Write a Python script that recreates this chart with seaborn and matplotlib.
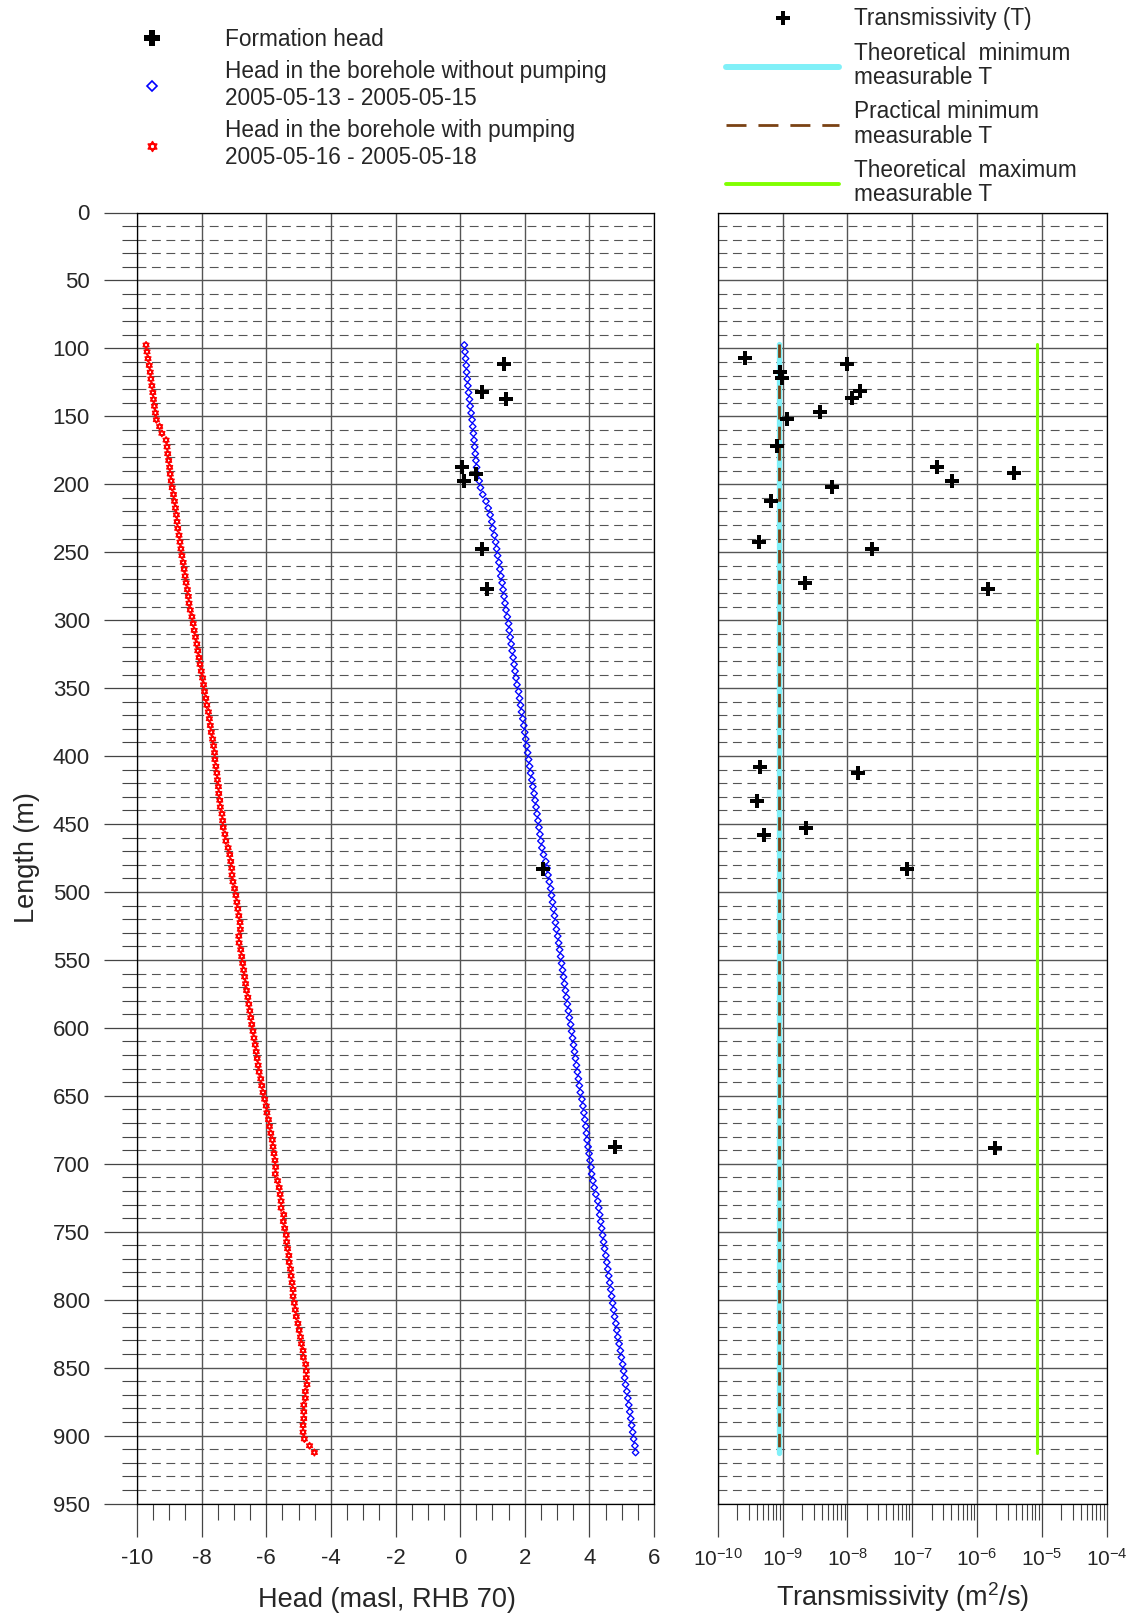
import matplotlib
matplotlib.use("Agg")
import matplotlib.pyplot as plt
import seaborn as sns
from matplotlib.path import Path
from matplotlib.lines import Line2D
from matplotlib.ticker import MultipleLocator, LogLocator, NullFormatter

# borehole length of each head reading (m)
depth = [
    97.5, 102.5, 107.5, 112.5, 117.5, 122.5, 127.5, 132.5, 137.5, 142.5,
    147.5, 152.5, 157.5, 162.5, 167.5, 172.5, 177.5, 182.5, 187.5, 192.5,
    197.5, 202.5, 207.5, 212.5, 217.5, 222.5, 227.5, 232.5, 237.5, 242.5,
    247.5, 252.5, 257.5, 262.5, 267.5, 272.5, 277.5, 282.5, 287.5, 292.5,
    297.5, 302.5, 307.5, 312.5, 317.5, 322.5, 327.5, 332.5, 337.5, 342.5,
    347.5, 352.5, 357.5, 362.5, 367.5, 372.5, 377.5, 382.5, 387.5, 392.5,
    397.5, 402.5, 407.5, 412.5, 417.5, 422.5, 427.5, 432.5, 437.5, 442.5,
    447.5, 452.5, 457.5, 462.5, 467.5, 472.5, 477.5, 482.5, 487.5, 492.5,
    497.5, 502.5, 507.5, 512.5, 517.5, 522.5, 527.5, 532.5, 537.5, 542.5,
    547.5, 552.5, 557.5, 562.5, 567.5, 572.5, 577.5, 582.5, 587.5, 592.5,
    597.5, 602.5, 607.5, 612.5, 617.5, 622.5, 627.5, 632.5, 637.5, 642.5,
    647.5, 652.5, 657.5, 662.5, 667.5, 672.5, 677.5, 682.5, 687.5, 692.5,
    697.5, 702.5, 707.5, 712.5, 717.5, 722.5, 727.5, 732.5, 737.5, 742.5,
    747.5, 752.5, 757.5, 762.5, 767.5, 772.5, 777.5, 782.5, 787.5, 792.5,
    797.5, 802.5, 807.5, 812.5, 817.5, 822.5, 827.5, 832.5, 837.5, 842.5,
    847.5, 852.5, 857.5, 862.5, 867.5, 872.5, 877.5, 882.5, 887.5, 892.5,
    897.5, 902.5, 907.5, 912.5,
]

# head in the borehole without pumping (2005-05-13 - 2005-05-15)
head_no_pump = [
    0.13, 0.15, 0.17, 0.19, 0.20, 0.22, 0.24, 0.26, 0.29, 0.31,
    0.34, 0.37, 0.39, 0.41, 0.43, 0.45, 0.47, 0.49, 0.51, 0.54,
    0.59, 0.63, 0.70, 0.80, 0.87, 0.93, 0.98, 1.01, 1.06, 1.10,
    1.13, 1.16, 1.20, 1.23, 1.26, 1.30, 1.33, 1.36, 1.39, 1.42,
    1.46, 1.50, 1.52, 1.55, 1.58, 1.61, 1.64, 1.67, 1.70, 1.73,
    1.76, 1.81, 1.84, 1.87, 1.90, 1.94, 1.97, 2.00, 2.03, 2.06,
    2.09, 2.12, 2.15, 2.18, 2.22, 2.25, 2.29, 2.32, 2.35, 2.38,
    2.41, 2.44, 2.47, 2.50, 2.53, 2.58, 2.65, 2.69, 2.72, 2.76,
    2.80, 2.83, 2.86, 2.89, 2.92, 2.95, 2.98, 3.02, 3.05, 3.08,
    3.11, 3.14, 3.17, 3.20, 3.23, 3.26, 3.29, 3.32, 3.35, 3.38,
    3.42, 3.45, 3.48, 3.51, 3.54, 3.57, 3.60, 3.63, 3.66, 3.69,
    3.72, 3.77, 3.80, 3.83, 3.86, 3.89, 3.91, 3.93, 3.96, 3.99,
    4.02, 4.05, 4.07, 4.11, 4.15, 4.20, 4.26, 4.29, 4.32, 4.35,
    4.38, 4.41, 4.44, 4.47, 4.51, 4.54, 4.57, 4.60, 4.63, 4.66,
    4.69, 4.72, 4.75, 4.78, 4.82, 4.85, 4.88, 4.92, 4.96, 4.99,
    5.03, 5.06, 5.09, 5.12, 5.16, 5.19, 5.22, 5.25, 5.28, 5.31,
    5.34, 5.37, 5.41, 5.43,
]

# head in the borehole with pumping (2005-05-16 - 2005-05-18)
head_pump = [
    -9.72, -9.69, -9.66, -9.62, -9.59, -9.57, -9.54, -9.51, -9.49, -9.46,
    -9.43, -9.40, -9.30, -9.23, -9.10, -9.07, -9.05, -9.02, -8.99, -8.97,
    -8.94, -8.91, -8.87, -8.84, -8.81, -8.78, -8.76, -8.74, -8.70, -8.67,
    -8.64, -8.61, -8.57, -8.54, -8.51, -8.48, -8.44, -8.41, -8.39, -8.35,
    -8.30, -8.26, -8.23, -8.19, -8.15, -8.12, -8.08, -8.05, -8.01, -7.97,
    -7.94, -7.91, -7.87, -7.84, -7.79, -7.76, -7.73, -7.70, -7.66, -7.63,
    -7.60, -7.59, -7.56, -7.53, -7.51, -7.48, -7.47, -7.44, -7.42, -7.37,
    -7.35, -7.33, -7.28, -7.25, -7.18, -7.13, -7.10, -7.07, -7.06, -7.03,
    -6.98, -6.94, -6.91, -6.88, -6.85, -6.81, -6.80, -6.85, -6.84, -6.79,
    -6.76, -6.73, -6.70, -6.67, -6.64, -6.61, -6.57, -6.54, -6.51, -6.48,
    -6.45, -6.41, -6.38, -6.34, -6.31, -6.28, -6.25, -6.22, -6.17, -6.14,
    -6.10, -6.05, -6.00, -5.98, -5.93, -5.90, -5.86, -5.81, -5.79, -5.76,
    -5.73, -5.71, -5.72, -5.65, -5.60, -5.57, -5.54, -5.54, -5.46, -5.47,
    -5.43, -5.38, -5.37, -5.34, -5.30, -5.29, -5.25, -5.23, -5.20, -5.17,
    -5.17, -5.13, -5.10, -5.07, -5.02, -4.98, -4.94, -4.91, -4.86, -4.85,
    -4.78, -4.76, -4.76, -4.74, -4.79, -4.79, -4.84, -4.84, -4.84, -4.86,
    -4.86, -4.82, -4.66, -4.51,
]

# formation head
fh_depth = [111.8, 131.9, 137.1, 187.1, 192.2, 197.4, 247.5, 277.4, 483.0, 688.0]
formation_head = [1.37, 0.69, 1.43, 0.05, 0.48, 0.11, 0.68, 0.82, 2.58, 4.79]

# transmissivity
t_depth = [106.9, 111.8, 117.2, 121.6, 131.4, 136.8, 146.9, 151.8, 171.9, 187.1,
           192.0, 197.4, 202.1, 212.1, 242.3, 247.5, 272.5, 277.4, 407.9, 412.4,
           432.7, 452.9, 458.2, 483.0, 688.4]
transmissivity = [2.6e-10, 9.7e-9, 9.1e-10, 9.7e-10, 1.55e-8, 1.18e-8, 3.7e-9, 1.17e-9, 8.2e-10, 2.44e-7,
                  3.7e-6, 4.06e-7, 5.7e-9, 6.6e-10, 4.3e-10, 2.35e-8, 2.2e-9, 1.5e-6, 4.5e-10, 1.45e-8,
                  4.0e-10, 2.3e-9, 5.1e-10, 8.4e-8, 1.9e-6]

# measurement limits
limit_depth = [97.0, 913.0]
t_theor_min = [8.6e-10, 8.6e-10]
t_pract_min = [8.6e-10, 8.6e-10]
t_theor_max = [8.5e-6, 8.5e-6]

head_ticks = [-10, -8, -6, -4, -2, 0, 2, 4, 6]
length_ticks = list(range(0, 951, 50))
t_ticks = [1e-10, 1e-9, 1e-8, 1e-7, 1e-6, 1e-5, 1e-4]
t_tick_labels = ["$10^{-10}$", "$10^{-9}$", "$10^{-8}$", "$10^{-7}$",
                 "$10^{-6}$", "$10^{-5}$", "$10^{-4}$"]

sns.set_theme(style="white")
plt.rcParams["font.family"] = ["Liberation Sans", "DejaVu Sans"]
plt.rcParams["mathtext.default"] = "regular"
plt.rcParams["axes.unicode_minus"] = False

CYAN = "#80f0f8"
BROWN = "#7a4214"
GREEN = "#80ff00"
GRID = "#555555"

# hexagram marker for the pumped profile
star6 = Path(
    [(0, 1), (-0.866, -0.5), (0.866, -0.5), (0, 1),
     (0, -1), (0.866, 0.5), (-0.866, 0.5), (0, -1)],
    [Path.MOVETO, Path.LINETO, Path.LINETO, Path.CLOSEPOLY] * 2,
)

fig = plt.figure(figsize=(11.28, 16.13), dpi=100)
W, H = 1128, 1613
ax1 = fig.add_axes([137 / W, 1 - 1503.5 / H, 517 / W, 1291 / H])
ax2 = fig.add_axes([718 / W, 1 - 1503.5 / H, 388.5 / W, 1291 / H])

# ---- left panel: heads
sns.scatterplot(x=head_pump, y=depth, ax=ax1, marker=star6, s=24,
                facecolor="none", edgecolor="red", linewidth=1.0, zorder=3)
sns.scatterplot(x=head_no_pump, y=depth, ax=ax1, marker="D", s=11,
                facecolor="none", edgecolor="blue", linewidth=0.95, zorder=3)
sns.scatterplot(x=formation_head, y=fh_depth, ax=ax1, marker="P", s=100,
                color="black", edgecolor="black", linewidth=0, zorder=4)

ax1.set_xlim(-10, 6)
ax1.set_ylim(950, 0)
ax1.set_xticks(head_ticks)
ax1.set_xticklabels([str(v) for v in head_ticks])
ax1.xaxis.set_minor_locator(MultipleLocator(0.5))
ax1.set_yticks(length_ticks)
ax1.set_yticklabels([str(v) for v in length_ticks])
ax1.yaxis.set_minor_locator(MultipleLocator(10))
ax1.set_xlabel("Head (masl, RHB 70)", fontsize=19.5)
ax1.xaxis.set_label_coords(0.483, -0.0645)
ax1.set_ylabel("Length (m)", fontsize=19.5, labelpad=9)

# ---- right panel: transmissivity
sns.lineplot(x=t_theor_min, y=limit_depth, ax=ax2, orient="y", sort=False,
             estimator=None, color=CYAN, linewidth=3.8, zorder=2)
sns.lineplot(x=t_pract_min, y=limit_depth, ax=ax2, orient="y", sort=False,
             estimator=None, color=BROWN, linewidth=2.0,
             linestyle=(0, (4.8, 2.6)), zorder=3)
sns.lineplot(x=t_theor_max, y=limit_depth, ax=ax2, orient="y", sort=False,
             estimator=None, color=GREEN, linewidth=2.2, zorder=2)
sns.scatterplot(x=transmissivity, y=t_depth, ax=ax2, marker="P", s=88,
                color="black", edgecolor="black", linewidth=0, zorder=4)

ax2.set_xscale("log")
ax2.set_xlim(1e-10, 1e-4)
ax2.set_ylim(950, 0)
ax2.set_xticks(t_ticks)
ax2.set_xticklabels(t_tick_labels)
ax2.xaxis.set_minor_locator(LogLocator(base=10, subs=range(2, 10), numticks=20))
ax2.xaxis.set_minor_formatter(NullFormatter())
ax2.set_yticks(length_ticks)
ax2.set_yticklabels([])
ax2.yaxis.set_minor_locator(MultipleLocator(10))
ax2.set_xlabel("Transmissivity (m$^2$/s)", fontsize=19.5)
ax2.xaxis.set_label_coords(0.476, -0.0592)
ax2.set_ylabel("")

for ax in (ax1, ax2):
    ax.set_axisbelow(True)
    ax.grid(which="major", color=GRID, linewidth=1.0, linestyle="-")
    ax.grid(which="minor", axis="y", color=GRID, linewidth=0.8,
            linestyle=(0, (8, 5)))
    ax.grid(which="minor", axis="x", visible=False)
    for sp in ax.spines.values():
        sp.set_visible(True)
        sp.set_color("black")
        sp.set_linewidth(0.9)
    ax.tick_params(axis="x", which="major", direction="out", length=24,
                   width=0.9, color="#444444", pad=8,
                   bottom=True, top=False)
    ax.tick_params(axis="x", which="minor", direction="out", length=11.5,
                   width=0.8, color="#444444", bottom=True, top=False)

ax1.tick_params(axis="x", which="major", labelsize=16)
ax2.tick_params(axis="x", which="major", labelsize=15, pad=8)
ax1.tick_params(axis="y", which="major", direction="out", length=24,
                width=0.9, color="#444444", labelsize=16, pad=10, left=True)
ax1.tick_params(axis="y", which="minor", direction="out", length=11,
                width=0.8, color="#444444", left=True)
ax2.tick_params(axis="y", which="both", length=0, left=False)

# ---- legends
leg_left_handles = [
    Line2D([], [], linestyle="none", marker="P", markersize=11,
           color="black", markeredgewidth=0),
    Line2D([], [], linestyle="none", marker="D", markersize=5.2,
           markerfacecolor="none", markeredgecolor="blue", markeredgewidth=1.2),
    Line2D([], [], linestyle="none", marker=star6, markersize=7,
           markerfacecolor="none", markeredgecolor="red", markeredgewidth=1.2),
]
leg_left_labels = [
    "Formation head",
    "Head in the borehole without pumping\n2005-05-13 - 2005-05-15",
    "Head in the borehole with pumping\n2005-05-16 - 2005-05-18",
]
leg1 = fig.legend(leg_left_handles, leg_left_labels, loc="upper left",
                  bbox_to_anchor=(129.4 / W, 1 - 27.5 / H), frameon=False,
                  fontsize=16.3, handlelength=2.0, handletextpad=2.23,
                  labelspacing=0.42, borderpad=0, borderaxespad=0, numpoints=1)

leg_right_handles = [
    Line2D([], [], linestyle="none", marker="P", markersize=10,
           color="black", markeredgewidth=0),
    Line2D([], [], color=CYAN, linewidth=4.3),
    Line2D([], [], color=BROWN, linewidth=2.0, linestyle=(0, (7.2, 4.3))),
    Line2D([], [], color=GREEN, linewidth=2.8),
]
leg_right_labels = [
    "Transmissivity (T)",
    "Theoretical  minimum\nmeasurable T",
    "Practical minimum\nmeasurable T",
    "Theoretical  maximum\nmeasurable T",
]
leg2 = fig.legend(leg_right_handles, leg_right_labels, loc="upper left",
                  bbox_to_anchor=(726 / W, 1 - 7.5 / H), frameon=False,
                  fontsize=16.3, handlelength=5.0, handletextpad=0.66,
                  labelspacing=0.5, borderpad=0, borderaxespad=0, numpoints=1)

for t in leg1.get_texts():
    t.set_linespacing(1.22)
for t in leg2.get_texts():
    t.set_linespacing(1.07)

fig.savefig("out.png", dpi=100)
